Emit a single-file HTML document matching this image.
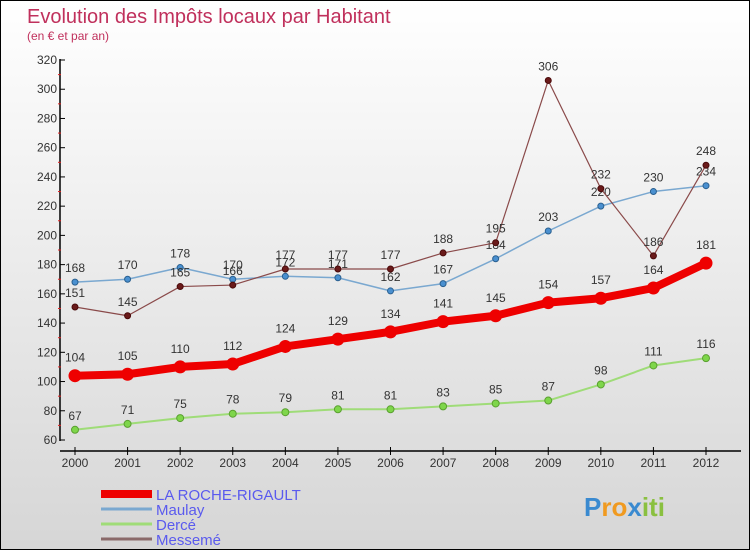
<!DOCTYPE html>
<html><head><meta charset="utf-8"><style>
body{margin:0}
#wrap{width:748px;height:548px;border:1px solid #000;background:linear-gradient(#fff,#d6d6d6);position:relative;font-family:"Liberation Sans",sans-serif}
</style></head><body>
<div id="wrap">
<svg id="chart" width="748" height="548">
<text x="26" y="22" font-size="20" fill="#c0305c">Evolution des Impôts locaux par Habitant</text>
<text x="26" y="39" font-size="12" fill="#c0305c">(en € et par an)</text>
</svg>
</div>
<script>
const years=[2000,2001,2002,2003,2004,2005,2006,2007,2008,2009,2010,2011,2012];
const yTicks=[60,80,100,120,140,160,180,200,220,240,260,280,300,320];
const rocheVals=[104,105,110,112,124,129,134,141,145,154,157,164,181];
const maulayVals=[168,170,178,170,172,171,162,167,184,203,220,230,234];
const derceVals=[67,71,75,78,79,81,81,83,85,87,98,111,116];
const messemeVals=[151,145,165,166,177,177,177,188,195,306,232,186,248];
const seriesNames=["LA ROCHE-RIGAULT","Maulay","Dercé","Messemé"];
const NS="http://www.w3.org/2000/svg";
const svg=document.getElementById('chart');
const X=i=>74+i*(705-74)/12;
const Y=v=>439-(v-60)*(439-59)/260;
function el(t,a,p){const e=document.createElementNS(NS,t);for(const k in a)e.setAttribute(k,a[k]);(p||svg).appendChild(e);return e;}
let ax=el('line',{x1:59,y1:58,x2:59,y2:440,stroke:'#000','stroke-width':1.5});


let bx=el('line',{x1:59,y1:450,x2:740,y2:450,stroke:'#000','stroke-width':1.5});


yTicks.forEach(v=>{
 el('line',{x1:59,y1:Y(v),x2:64,y2:Y(v),stroke:'#000'});
 if(v<320) el('line',{x1:57,y1:Y(v+10),x2:60,y2:Y(v+10),stroke:'#e02020'});
 const t=el('text',{x:56,y:Y(v)+4,'font-size':12,'text-anchor':'end',fill:'#333'});t.textContent=v;
 
 
});
years.forEach((yr,i)=>{
 el('line',{x1:X(i),y1:446,x2:X(i),y2:454,stroke:'#000'});
 const t=el('text',{x:X(i),y:466,'font-size':12,'text-anchor':'middle',fill:'#333'});t.textContent=yr;
 
 
});
function series(vals,color,w,dot,dotStroke,r,name,labelOff){
 const g=el('g',{});
 
 
 el('polyline',{points:vals.map((v,i)=>X(i)+','+Y(v)).join(' '),fill:'none',stroke:color,'stroke-width':w,'stroke-linejoin':'round'},g);
 vals.forEach((v,i)=>{
  const c=el('circle',{cx:X(i),cy:Y(v),r:r,fill:dot,stroke:dotStroke,'stroke-width':1},g);
  
  
  const t=el('text',{x:X(i),y:Y(v)+labelOff,'font-size':12,'text-anchor':'middle',fill:'#333'},g);t.textContent=v;
  
  
 });
}
series(derceVals,'#9fdc78',2,'#7ed64a','#5aa030',3.5,'series-derce',-10);
series(maulayVals,'#7aa8d0',1.5,'#4a90d0','#2a6090',3,'series-maulay',-10);
series(messemeVals,'#8a4a4a',1.2,'#6a1a1a','#4a0a0a',3,'series-messeme',-10);
series(rocheVals,'#ee0000',8,'#ee0000','#ee0000',6,'series-la-roche-rigault',-14);
const leg=[{c:'#ee0000',w:8},{c:'#7aa8d0',w:3},{c:'#9fdc78',w:3},{c:'#8a6a6a',w:3}];
seriesNames.forEach((n,i)=>{
 const y=493+i*15;
 const l=el('line',{x1:100,y1:y,x2:151,y2:y,stroke:leg[i].c,'stroke-width':leg[i].w});
 
 
 const t=el('text',{x:155,y:y+6,'font-size':15,fill:'#5a5aee'});t.textContent=n;
 
 
});
const logo=el('text',{x:583,y:515,'font-size':26,'font-weight':'bold',fill:'#3a8ad0'});


[['P','#3a8ad0'],['ro','#f09a20'],['x','#3a8ad0'],['iti','#8ac040']].forEach(([s,c])=>{const ts=el('tspan',{fill:c},logo);ts.textContent=s;});
</script>
</body></html>
